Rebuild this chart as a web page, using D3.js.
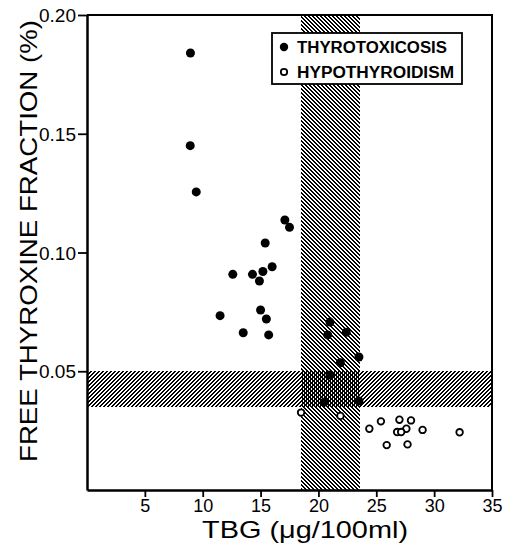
<!DOCTYPE html>
<html>
<head>
<meta charset="utf-8">
<title>Free thyroxine fraction vs TBG</title>
<style>
body { margin: 0; background: white; }
.tick text { font-family: "Liberation Sans", Arial, sans-serif; }
</style>
</head>
<body>
<script src="https://d3js.org/d3.v7.min.js"></script>
<script>

// data: TBG (ug/100ml), free T4 fraction (%)
var thyroTBG   = [8.94, 8.92, 9.44, 17.1, 17.5, 15.4, 16.0, 12.6, 14.3, 15.2, 14.9, 11.5, 15.0, 15.5, 13.5, 15.7, 21.0, 20.8, 22.4, 23.5, 21.9, 21.0, 20.5, 23.5];
var thyroFT4   = [0.184, 0.145, 0.1255, 0.1137, 0.1106, 0.104, 0.094, 0.0908, 0.0908, 0.092, 0.088, 0.0734, 0.0758, 0.072, 0.0662, 0.0653, 0.0707, 0.0653, 0.0664, 0.056, 0.0536, 0.0484, 0.037, 0.0375];
var hypoTBG    = [18.5, 21.9, 24.4, 25.4, 27.0, 28.0, 27.6, 26.8, 27.15, 29.0, 32.2, 25.9, 27.7];
var hypoFT4    = [0.0326, 0.0312, 0.0258, 0.0289, 0.0296, 0.0293, 0.0258, 0.0244, 0.0244, 0.0253, 0.0243, 0.0189, 0.0192];

var xTicks = [5, 10, 15, 20, 25, 30, 35];
var yTicks = [0.05, 0.10, 0.15, 0.20];
var normalTBG = [18.5, 23.6];
var normalFT4 = [0.035, 0.050];
var legendLabels = ["THYROTOXICOSIS", "HYPOTHYROIDISM"];

var margin = {top: 15, right: 14, bottom: 58, left: 87};
var outer_width = 506, outer_height = 548;
var w = outer_width - margin.left - margin.right;
var h = outer_height - margin.top - margin.bottom;

var x = d3.scaleLinear().domain([0, 35]).range([0, w]);
var y = d3.scaleLinear().domain([0, 0.20]).range([h, 0]);

var svg = d3.select("body").append("svg")
    .attr("width", outer_width)
    .attr("height", outer_height);

// pixel hatch tiles, 4x4 with a 2px wide diagonal stripe
function hatch(id, dir) {
  var p = svg.append("defs").append("pattern").attr("id", id)
      .attr("patternUnits", "userSpaceOnUse").attr("width", 4).attr("height", 4);
  d3.range(4).forEach(function(r){
    [0, 1].forEach(function(k){
      var c = dir > 0 ? (r + k) % 4 : (7 - r + k) % 4;
      p.append("rect").attr("x", c).attr("y", r).attr("width", 1).attr("height", 1)
        .attr("fill", "black").attr("shape-rendering", "crispEdges");
    });
  });
}
hatch("hatchBack", 1);   // "\" for TBG normal range
hatch("hatchFwd", -1);   // "/" for FT4 normal range

var g = svg.append("g")
    .attr("transform", "translate(" + margin.left + "," + margin.top + ")");

g.append("rect")
    .attr("x", Math.round(x(normalTBG[0]))).attr("y", 0)
    .attr("width", Math.round(x(normalTBG[1]) - x(normalTBG[0])))
    .attr("height", h)
    .attr("fill", "url(#hatchBack)");

g.append("rect")
    .attr("x", 0).attr("y", Math.round(y(normalFT4[1])))
    .attr("width", w)
    .attr("height", Math.round(y(normalFT4[0]) - y(normalFT4[1])))
    .attr("fill", "url(#hatchFwd)");

// frame
g.append("path")
    .attr("d", "M0,0 H" + w + " V" + h)
    .attr("fill", "none").attr("stroke", "black").attr("stroke-width", 2);

var xAxis = g.append("g")
    .attr("transform", "translate(0," + h + ")")
    .call(d3.axisBottom(x).tickValues(xTicks).tickSize(7).tickPadding(2).tickSizeOuter(0));
var yAxis = g.append("g")
    .call(d3.axisLeft(y).tickValues(yTicks).tickFormat(d3.format(".2f")).tickSize(9).tickPadding(2).tickSizeOuter(0));

[xAxis, yAxis].forEach(function(a){
  a.select(".domain").attr("stroke-width", 2.5);
  a.selectAll(".tick line").attr("stroke-width", 1.8);
  a.selectAll(".tick text").attr("font-size", 18).attr("fill", "black");
});
yAxis.selectAll(".tick text").attr("font-size", 19).attr("dy", "0.35em");

// legend
var leg = g.append("g").attr("transform", "translate(" + (272 - margin.left) + "," + (33 - margin.top) + ")");
leg.append("rect")
    .attr("width", 190).attr("height", 51)
    .attr("fill", "white").attr("stroke", "black").attr("stroke-width", 1.8);
leg.append("circle").attr("cx", 12).attr("cy", 14).attr("r", 4.2).attr("fill", "black");
leg.append("circle").attr("cx", 12).attr("cy", 39).attr("r", 3.2)
    .attr("fill", "white").attr("stroke", "black").attr("stroke-width", 1.8);
leg.selectAll("text.lab").data(legendLabels).enter().append("text")
    .attr("class", "lab")
    .attr("x", 25)
    .attr("y", function(d, i){ return 20 + i * 25; })
    .attr("font-family", "'Liberation Sans', Arial, sans-serif")
    .attr("font-weight", "bold")
    .attr("font-size", 16)
    .attr("textLength", function(d, i){ return i == 0 ? 150 : 157; })
    .attr("lengthAdjust", "spacingAndGlyphs")
    .text(function(d){ return d; });

// points
var thyro = thyroTBG.map(function(d, i){ return {x: d, y: thyroFT4[i]}; });
var hypo = hypoTBG.map(function(d, i){ return {x: d, y: hypoFT4[i]}; });

g.selectAll("circle.thyro").data(thyro).enter().append("circle")
    .attr("class", "thyro")
    .attr("cx", function(d){ return x(d.x); })
    .attr("cy", function(d){ return y(d.y); })
    .attr("r", 4.5)
    .attr("fill", "black");

g.selectAll("circle.hypo").data(hypo).enter().append("circle")
    .attr("class", "hypo")
    .attr("cx", function(d){ return x(d.x); })
    .attr("cy", function(d){ return y(d.y); })
    .attr("r", 3.3)
    .attr("fill", "white")
    .attr("stroke", "black")
    .attr("stroke-width", 1.8);

// axis titles
svg.append("text")
    .attr("x", 305).attr("y", 538)
    .attr("text-anchor", "middle")
    .attr("font-family", "'Liberation Sans', Arial, sans-serif")
    .attr("font-size", 24)
    .attr("textLength", 206)
    .attr("lengthAdjust", "spacingAndGlyphs")
    .text("TBG (\u03BCg/100ml)");

svg.append("text")
    .attr("transform", "translate(37,241) rotate(-90)")
    .attr("text-anchor", "middle")
    .attr("font-family", "'Liberation Sans', Arial, sans-serif")
    .attr("font-size", 24)
    .attr("textLength", 442)
    .attr("lengthAdjust", "spacingAndGlyphs")
    .text("FREE THYROXINE FRACTION (%)");

</script>
</body>
</html>
